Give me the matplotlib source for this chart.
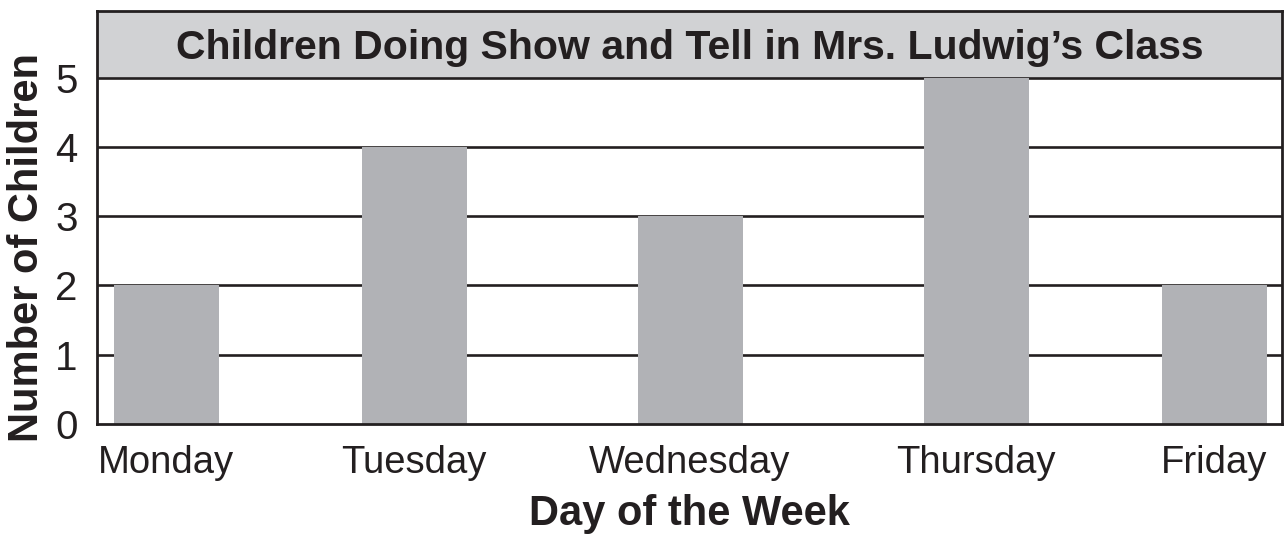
import matplotlib
matplotlib.use("Agg")
import matplotlib.pyplot as plt
from matplotlib.patches import Rectangle

days = ["Monday", "Tuesday", "Wednesday", "Thursday", "Friday"]
children = [2, 4, 3, 5, 2]
y_ticks = [0, 1, 2, 3, 4, 5]
title = "Children Doing Show and Tell in Mrs. Ludwig\u2019s Class"
x_label = "Day of the Week"
y_label = "Number of Children"

# layout (pixel-like x units across the plot area)
positions = [69, 317, 593, 879, 1117]
bar_width = 105

BAR = "#b1b2b6"
BAND = "#d1d2d4"
INK = "#231f20"

fig = plt.figure(figsize=(12.85, 5.36), dpi=100)
ax = fig.add_axes([97 / 1285, 1 - 424 / 536, 1185 / 1285, 413 / 536])

ax.set_xlim(0, 1185)
ax.set_ylim(0, 5.96)

# title band
ax.add_patch(Rectangle((0, 5), 1185, 0.96, facecolor=BAND, edgecolor="none", zorder=0))
for y in y_ticks[1:]:
    ax.axhline(y, color=INK, lw=1.9, zorder=1)

ax.bar(positions, children, width=bar_width, color=BAR, zorder=2)

ax.text(1185 / 2, 5.43, title, ha="center", va="center",
        fontsize=29.5, fontweight="bold", family="Liberation Sans", color=INK)

ax.set_yticks(y_ticks)
ax.set_yticklabels([str(v) for v in y_ticks], fontsize=29, family="Liberation Sans", color=INK)
ax.set_xticks(positions)
ax.set_xticklabels(days, fontsize=27.5, family="Liberation Sans", color=INK)
ax.tick_params(axis="both", length=0)
ax.tick_params(axis="y", pad=14)
ax.tick_params(axis="x", pad=15)

ax.set_xlabel(x_label, fontsize=30, fontweight="bold", family="Liberation Sans", color=INK)
ax.set_ylabel(y_label, fontsize=30, fontweight="bold", family="Liberation Sans", color=INK)
ax.yaxis.set_label_coords(-50 / 1185, 0.427)
ax.xaxis.set_label_coords(0.5, -0.17)

for s in ax.spines.values():
    s.set_color(INK)
    s.set_linewidth(2.0)
    s.set_zorder(3)

fig.savefig("out.png", dpi=100)
